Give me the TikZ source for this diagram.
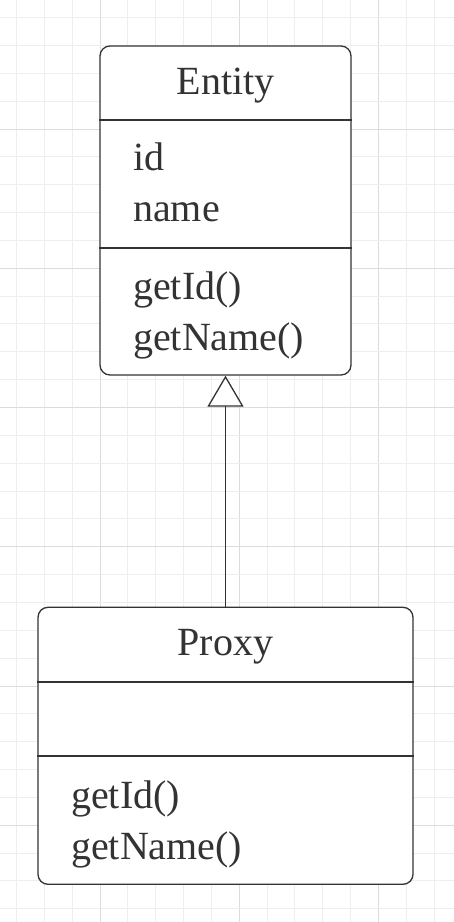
\documentclass[tikz,border=0pt]{standalone}
\usepackage{fontspec}
\setmainfont{Liberation Serif}
\usetikzlibrary{arrows.meta, positioning, calc}
\definecolor{umlgray}{HTML}{333333}
\definecolor{minorline}{HTML}{EEEEEE}
\definecolor{majorline}{HTML}{DCDCDC}

\begin{document}
\begin{tikzpicture}[x=1pt, y=-1pt, classbox/.style={draw=umlgray, line width=1.3pt, rounded corners=10pt, fill=white, inner sep=0pt}, label/.style={inner sep=0pt, text=umlgray, font=\fontsize{40}{48}\selectfont}, member/.style={label, anchor=base west}, title/.style={label, anchor=base}, divider/.style={draw=umlgray, line width=1.3pt}, inherit/.style={draw=umlgray, line width=1.3pt, -{Triangle[length=31pt, width=36pt, fill=white]}}]
\useasboundingbox (0,0) rectangle (454,922);
\fill[white] (0,0) rectangle (454,922);
% background grid
\foreach \i in {2,...,17} {
  \pgfmathtruncatemacro{\ismajor}{mod(\i,5)==0}
  \ifnum\ismajor=1 \def\gridcol{majorline}\else \def\gridcol{minorline}\fi
  \draw[\gridcol, line width=1pt] ({-39.25+27.85*\i},0) -- ({-39.25+27.85*\i},922);
}
\foreach \j in {1,...,33} {
  \pgfmathtruncatemacro{\ismajor}{mod(\j,5)==0}
  \ifnum\ismajor=1 \def\gridcol{majorline}\else \def\gridcol{minorline}\fi
  \draw[\gridcol, line width=1pt] (0,{-10.25+27.85*\j}) -- (454,{-10.25+27.85*\j});
}
% classes
\node[classbox, minimum width=251pt, minimum height=329pt] (entity) at (225.5,210.5) {};
\node[classbox, below=231pt of entity, minimum width=375pt, minimum height=277pt] (proxy) {};
\draw[divider] (entity.west |- 0,120) -- (entity.east |- 0,120);
\draw[divider] (entity.west |- 0,248) -- (entity.east |- 0,248);
\draw[divider] (proxy.west |- 0,682) -- (proxy.east |- 0,682);
\draw[divider] (proxy.west |- 0,756) -- (proxy.east |- 0,756);
\node[title] (entitytitle) at (225.5,94.3) {Entity};
\node[member] (entityid) at (133,170) {id};
\node[member] (entityname) at (133,221) {name};
\node[member] (entitygetid) at (133,299) {getId()};
\node[member] (entitygetname) at (133,350) {getName()};
\node[title] (proxytitle) at (225.5,655.7) {Proxy};
\node[member] (proxygetid) at (71,808) {getId()};
\node[member] (proxygetname) at (71,859) {getName()};
% generalization
\draw[inherit] (proxy.north) -- (entity.south);
\end{tikzpicture}
\end{document}
